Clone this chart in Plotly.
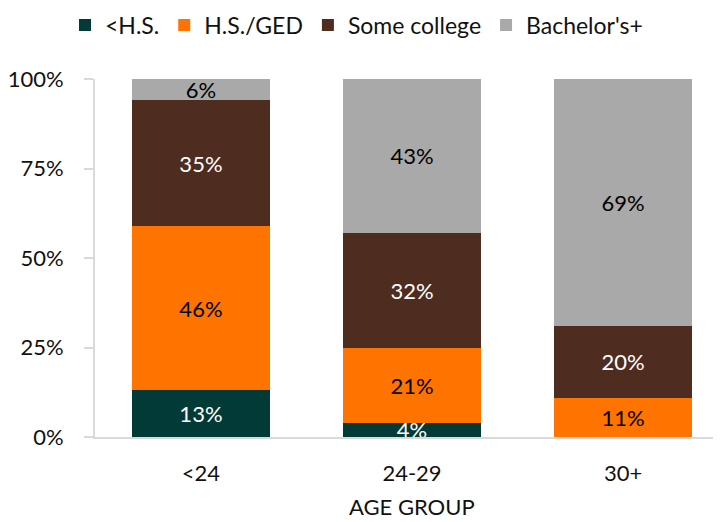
import plotly.graph_objects as go

categories = ["<24", "24-29", "30+"]
series_names = ["<H.S.", "H.S./GED", "Some college", "Bachelor's+"]
lt_hs = [13, 4, 0]
hs_ged = [46, 21, 11]
some_college = [35, 32, 20]
bachelors = [6, 43, 69]
y_ticks = [0, 25, 50, 75, 100]
y_tick_labels = ["0%", "25%", "50%", "75%", "100%"]

colors = ["#023a37", "#ff7300", "#4f2c20", "#a9a9a9"]
text_colors = ["white", "black", "white", "black"]
series = [lt_hs, hs_ged, some_college, bachelors]

FONT = "Lato, 'Open Sans', sans-serif"

# the page body has an 8px margin, so the figure is sized to fit inside the window
W, H = 713, 514

fig = go.Figure()
xpos = list(range(len(categories)))
for name, vals, col, tcol in zip(series_names, series, colors, text_colors):
    fig.add_trace(go.Bar(
        x=xpos, y=vals, name=name,
        marker=dict(color=col, line=dict(width=0)),
        width=0.655,
        text=[f"{v}%" if v > 0 else "" for v in vals],
        textposition="inside",
        insidetextanchor="middle",
        textangle=0,
        textfont=dict(color=tcol, size=22, family=FONT),
        cliponaxis=False,
        hoverinfo="skip",
    ))

fig.update_layout(
    barmode="stack",
    width=W, height=H,
    margin=dict(l=87, r=0, t=71, b=85, autoexpand=False),
    plot_bgcolor="white", paper_bgcolor="white",
    font=dict(family=FONT, size=22, color="#111111"),
    uniformtext=dict(minsize=22, mode="show"),
    showlegend=True,
    legend=dict(orientation="h", xref="container", yref="container",
                x=57 / W, xanchor="left", y=1 - 17 / H, yanchor="middle",
                font=dict(size=23, family=FONT), traceorder="normal",
                itemwidth=30),
    xaxis=dict(
        tickmode="array", tickvals=xpos, ticktext=categories,
        range=[-0.502, 2.464], automargin=False,
        showline=True, linecolor="#d9d9d9", linewidth=2,
        ticks="", ticklabelstandoff=16,
        tickfont=dict(size=22, family=FONT),
        showgrid=False, zeroline=False,
    ),
    yaxis=dict(
        range=[0, 100], tickmode="array", tickvals=y_ticks, ticktext=y_tick_labels,
        automargin=False,
        showline=True, linecolor="#d9d9d9", linewidth=2,
        ticks="outside", ticklen=9, tickcolor="#d9d9d9", tickwidth=2,
        ticklabelstandoff=16,
        tickfont=dict(size=22, family=FONT),
        showgrid=False, zeroline=False,
    ),
    annotations=[dict(text="AGE GROUP", xref="x", yref="paper", x=1,
                      y=0, yshift=-69, xanchor="center", yanchor="middle", showarrow=False,
                      borderpad=0,
                      font=dict(size=22, family=FONT))],
)

fig.write_html("out.html")
